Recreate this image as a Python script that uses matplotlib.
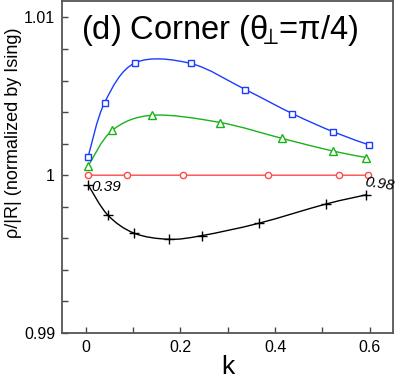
# Corner (theta_perp = pi/4) : rho/|R| normalized by Ising vs k

import numpy as np
import matplotlib
matplotlib.use('Agg')
import matplotlib.pyplot as plt
from matplotlib.path import Path
from matplotlib.patches import PathPatch

plt.rcParams['font.family'] = ['Liberation Sans', 'DejaVu Sans']
plt.rcParams['mathtext.fontset'] = 'custom'
plt.rcParams['mathtext.rm'] = 'Liberation Sans'
plt.rcParams['mathtext.it'] = 'Liberation Sans:italic'
plt.rcParams['mathtext.fallback'] = 'stixsans'

# data
k_blue = [0.005, 0.040, 0.105, 0.222, 0.337, 0.436, 0.522, 0.599]
r_blue = [1.00115, 1.0046, 1.00713, 1.00708, 1.00543, 1.00391, 1.00276, 1.00191]

k_green = [0.005, 0.056, 0.141, 0.284, 0.415, 0.522, 0.593]
r_green = [1.00057, 1.00284, 1.0038, 1.00334, 1.00233, 1.00153, 1.00112]

k_red = [0.005, 0.087, 0.205, 0.386, 0.535, 0.597]
r_red = [1.0, 1.0, 1.0, 1.0, 1.0, 1.0]

k_black = [0.0055, 0.0465, 0.1027, 0.176, 0.245, 0.365, 0.507, 0.593]
r_black = [0.99937, 0.99748, 0.99632, 0.99594, 0.99617, 0.99695, 0.99817, 0.99876]

# labels at the ends of the black curve
label_left = '0.39'
label_right = '0.98'


def smooth_path(x, y):
    # catmull-rom through the points, drawn as bezier segments
    p = np.column_stack([x, y])
    p = np.vstack([p[0], p, p[-1]])
    verts = [p[1]]
    codes = [Path.MOVETO]
    for i in range(1, len(p) - 2):
        c1 = p[i] + (p[i + 1] - p[i - 1]) / 6
        c2 = p[i + 1] - (p[i + 2] - p[i]) / 6
        verts += [c1, c2, p[i + 1]]
        codes += [Path.CURVE4] * 3
    return Path(verts, codes)


fig = plt.figure(figsize=(3.95, 3.82), dpi=100)
ax = fig.add_axes([62 / 395, 49 / 382, 331 / 395, 332 / 382])

series = [
    (k_blue, r_blue, '#1a3cff', 's', 5),
    (k_green, r_green, '#19b219', '^', 5.5),
    (k_red, r_red, '#ff4a4a', 'o', 4.5),
    (k_black, r_black, 'black', '+', 7),
]
for kx, ry, col, m, ms in series:
    ax.add_patch(PathPatch(smooth_path(kx, ry), fill=False, edgecolor=col, lw=1.0))
    ax.plot(kx, ry, ls='none', marker=m, ms=ms, mfc='white' if m != '+' else col,
            mec=col, mew=1.0, zorder=3)

ax.text(k_black[0] + 0.006, r_black[0] - 0.0001, label_left, fontsize=11,
        style='italic', ha='left', va='center')
ax.text(k_black[-1] - 0.006, r_black[-1] + 0.0007, label_right, fontsize=11,
        style='italic', ha='left', va='center', rotation=-8)

ax.text(0.058, 0.965, r'(d) Corner (θ$\!\!_{\perp}\!$=π/4)',
        transform=ax.transAxes, fontsize=23.5, ha='left', va='top')

ax.set_xlim(-0.05, 0.649)
ax.set_ylim(0.99, 1.01104)
ax.set_xticks([0, 0.2, 0.4, 0.6])
ax.set_xticklabels(['0', '0.2', '0.4', '0.6'])
ax.set_xticks([0.1, 0.3, 0.5], minor=True)
ax.set_yticks([0.99, 1.0, 1.01])
ax.set_yticklabels(['0.99', '1', '1.01'])
ax.set_yticks(np.arange(0.992, 1.0095, 0.002), minor=True)
ax.tick_params(which='both', direction='in', length=4, width=1, colors='#444444',
               labelcolor='black', labelsize=11.5, pad=5)
for s in ax.spines.values():
    s.set_color('#555555')
    s.set_linewidth(1.3)

ax.set_xlabel('k', fontsize=19, labelpad=0)
fig.text(14 / 395, 1 - 133 / 382, 'ρ/|R| (normalized by Ising)', rotation=90,
         fontsize=13, ha='center', va='center')

fig.savefig('out.png', dpi=100)
